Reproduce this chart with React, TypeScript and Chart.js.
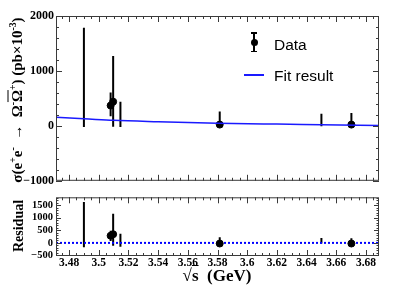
import React, { useEffect, useRef } from "react";
import { Chart, registerables } from "chart.js";

Chart.register(...registerables);

// ---- data ----
const energies = [3.49, 3.508, 3.5097, 3.5146, 3.5815, 3.65, 3.6702];
const measured = [false, true, true, false, true, false, true];
const xsec = [0, 370, 441, 0, 23, 0, 23];
const xsecLow = [-20, 173, -18, -20, 0, -5, 0];
const xsecHigh = [1786, 607, 1273, 441, 262, 220, 232];

const fitEnergies = [3.4712, 3.49, 3.51, 3.54, 3.58, 3.62, 3.65, 3.6888];
const fitXsec = [155, 130, 100, 75, 48, 32, 22, 8];

const residual = [-150, 285, 345, -100, -25, 0, -25];
const residualLow = [-175, 75, -110, -150, -25, -20, -25];
const residualHigh = [1620, 480, 1160, 360, 220, 195, 185];

const zeroLineEnergies = [3.4712, 3.6888];
const zeroLineValues = [0, 0];

// tick labels
const xTickValues = [3.48, 3.5, 3.52, 3.54, 3.56, 3.58, 3.6, 3.62, 3.64, 3.66, 3.68];
const topYTickValues = [-1000, 0, 1000, 2000];
const resYTickValues = [-500, 0, 500, 1000, 1500];

const X_MIN = 3.4712;
const X_MAX = 3.6888;
const TOP_Y_MIN = -1000;
const TOP_Y_MAX = 2000;
const RES_Y_MIN = -520;
const RES_Y_MAX = 1810;

const TICK_FONT = "'Liberation Serif', 'Times New Roman', serif";
const SANS = "'Liberation Sans', Arial, sans-serif";

const fmtNum = (v: number) => {
  const n = +Number(v).toFixed(3);
  return n < 0 ? "\u2212" + String(-n) : String(n);
};

const setTicks = (values: number[]) => (s: any) => {
  s.ticks = values.map((v) => ({ value: v }));
};

const errorBars = {
  id: "errorBars",
  beforeDatasetsDraw(chart: any) {
    const { ctx, chartArea } = chart;
    const xs = chart.scales.x;
    const ys = chart.scales.y;
    ctx.save();
    ctx.beginPath();
    ctx.rect(chartArea.left, chartArea.top, chartArea.right - chartArea.left, chartArea.bottom - chartArea.top);
    ctx.clip();
    chart.data.datasets.forEach((ds: any) => {
      if (!ds.errLow) return;
      ctx.strokeStyle = "#000";
      ctx.lineWidth = 2;
      ds.data.forEach((p: any, j: number) => {
        const x = xs.getPixelForValue(p.x);
        ctx.beginPath();
        ctx.moveTo(x, ys.getPixelForValue(ds.errLow[j]));
        ctx.lineTo(x, ys.getPixelForValue(ds.errHigh[j]));
        ctx.stroke();
      });
    });
    ctx.restore();
  },
};

const frame = {
  id: "frame",
  afterDraw(chart: any, _args: any, opts: any) {
    const { ctx, chartArea: a } = chart;
    const xs = chart.scales.x;
    const ys = chart.scales.y;
    ctx.save();
    ctx.strokeStyle = "#3a3a3a";
    ctx.lineWidth = 1;
    ctx.strokeRect(a.left + 0.5, a.top + 0.5, a.right - a.left - 1, a.bottom - a.top - 1);
    const xTicks = (step: number, len: number) => {
      for (let k = Math.ceil(xs.min / step - 1e-9); k * step <= xs.max + 1e-9; k++) {
        const px = Math.round(xs.getPixelForValue(k * step)) + 0.5;
        ctx.beginPath();
        ctx.moveTo(px, a.bottom);
        ctx.lineTo(px, a.bottom - len);
        ctx.moveTo(px, a.top);
        ctx.lineTo(px, a.top + len);
        ctx.stroke();
      }
    };
    const yTicks = (step: number, len: number) => {
      for (let k = Math.ceil(ys.min / step - 1e-9); k * step <= ys.max + 1e-9; k++) {
        const py = Math.round(ys.getPixelForValue(k * step)) + 0.5;
        ctx.beginPath();
        ctx.moveTo(a.left, py);
        ctx.lineTo(a.left + len, py);
        ctx.moveTo(a.right, py);
        ctx.lineTo(a.right - len, py);
        ctx.stroke();
      }
    };
    xTicks(opts.xMinor, opts.minLen);
    xTicks(opts.xMajor, opts.majLen);
    yTicks(opts.yMinor, opts.yMinLen);
    yTicks(opts.yMajor, opts.yMajLen);
    ctx.restore();
  },
};

function TopChart() {
  const ref = useRef<HTMLCanvasElement>(null);
  useEffect(() => {
    const chart = new Chart(ref.current!, {
      type: "scatter",
      data: {
        datasets: [
          {
            type: "line",
            label: "Fit result",
            data: fitEnergies.map((x, i) => ({ x, y: fitXsec[i] })),
            borderColor: "#1a1aff",
            borderWidth: 1.5,
            pointRadius: 0,
            cubicInterpolationMode: "monotone",
            fill: false,
          } as any,
          {
            label: "Data",
            data: energies.map((x, i) => ({ x, y: xsec[i] })),
            errLow: xsecLow,
            errHigh: xsecHigh,
            backgroundColor: "#000",
            borderColor: "#000",
            pointRadius: (c: any) => (measured[c.dataIndex] ? 3.5 : 0),
            pointHoverRadius: 0,
          } as any,
        ],
      },
      options: {
        animation: false,
        responsive: false,
        events: [],
        layout: { padding: { left: 0, right: 20, top: 16, bottom: 6 } },
        plugins: {
          legend: { display: false },
          tooltip: { enabled: false },
          frame: { xMajor: 0.02, xMinor: 0.005, majLen: 6, minLen: 3, yMajor: 1000, yMinor: 200, yMajLen: 6, yMinLen: 3 },
        } as any,
        scales: {
          x: { type: "linear", min: X_MIN, max: X_MAX, display: false },
          y: {
            type: "linear",
            min: TOP_Y_MIN,
            max: TOP_Y_MAX,
            afterFit: (s: any) => { s.width = 56; },
            afterBuildTicks: setTicks(topYTickValues),
            grid: { display: false, drawTicks: false },
            border: { display: false },
            ticks: {
              padding: 2,
              color: "#000",
              font: { family: TICK_FONT, size: 12, weight: "bold" },
              callback: (v: any) => fmtNum(v),
            },
          },
        },
      } as any,
      plugins: [errorBars, frame],
    });
    return () => chart.destroy();
  }, []);
  return <canvas ref={ref} width={399} height={190} style={{ position: "absolute", left: 0, top: 0, width: 399, height: 190 }} />;
}

function ResidualChart() {
  const ref = useRef<HTMLCanvasElement>(null);
  useEffect(() => {
    const chart = new Chart(ref.current!, {
      type: "scatter",
      data: {
        datasets: [
          {
            label: "Residual",
            data: energies.map((x, i) => ({ x, y: residual[i] })),
            errLow: residualLow,
            errHigh: residualHigh,
            backgroundColor: "#000",
            borderColor: "#000",
            pointRadius: (c: any) => (measured[c.dataIndex] ? 3.5 : 0),
            pointHoverRadius: 0,
          } as any,
          {
            type: "line",
            label: "zero",
            data: zeroLineEnergies.map((x, i) => ({ x, y: zeroLineValues[i] })),
            borderColor: "#0000ff",
            borderWidth: 2,
            borderDash: [2, 2],
            pointRadius: 0,
            fill: false,
          } as any,
        ],
      },
      options: {
        animation: false,
        responsive: false,
        events: [],
        layout: { padding: { left: 0, right: 20, top: 5, bottom: 0 } },
        plugins: {
          legend: { display: false },
          tooltip: { enabled: false },
          frame: { xMajor: 0.02, xMinor: 0.005, majLen: 6, minLen: 3, yMajor: 500, yMinor: 100, yMajLen: 5, yMinLen: 2.5 },
        } as any,
        scales: {
          x: {
            type: "linear",
            min: X_MIN,
            max: X_MAX,
            afterFit: (s: any) => { s.height = 32; },
            afterBuildTicks: setTicks(xTickValues),
            grid: { display: false, drawTicks: false },
            border: { display: false },
            ticks: {
              autoSkip: false,
              maxRotation: 0,
              padding: 0,
              color: "#000",
              font: { family: TICK_FONT, size: 11.5, weight: "bold" },
              callback: (v: any) => fmtNum(v),
            },
          },
          y: {
            type: "linear",
            min: RES_Y_MIN,
            max: RES_Y_MAX,
            afterFit: (s: any) => { s.width = 56; },
            afterBuildTicks: setTicks(resYTickValues),
            grid: { display: false, drawTicks: false },
            border: { display: false },
            ticks: {
              autoSkip: false,
              padding: 3,
              color: "#000",
              font: { family: TICK_FONT, size: 10.5, weight: "bold" },
              callback: (v: any) => fmtNum(v),
            },
          },
        },
      } as any,
      plugins: [errorBars, frame],
    });
    return () => chart.destroy();
  }, []);
  return <canvas ref={ref} width={399} height={100} style={{ position: "absolute", left: 0, top: 188, width: 399, height: 100 }} />;
}

const serifBold: React.CSSProperties = { fontFamily: TICK_FONT, fontWeight: "bold", color: "#000", whiteSpace: "nowrap", position: "absolute" };
const supStyle: React.CSSProperties = { fontSize: "0.65em", verticalAlign: "0.55em", lineHeight: 0 };

export default function App() {
  return (
    <div style={{ position: "fixed", left: 0, top: 0, width: 399, height: 288, background: "#fff", overflow: "hidden" }}>
      <TopChart />
      <ResidualChart />
      {/* y title, top panel */}
      <div style={{ ...serifBold, left: 17, top: 100, fontSize: 15, transform: "translate(-50%, -50%) rotate(-90deg)" }}>
        σ(e<span style={supStyle}>+</span>e<span style={supStyle}>-</span>&nbsp;&nbsp;→&nbsp;&nbsp;Ω<span style={supStyle}>-</span>
        <span style={{ textDecoration: "overline" }}>Ω</span><span style={supStyle}>+</span>) (pb×10<span style={supStyle}>-3</span>)
      </div>
      {/* y title, residual panel */}
      <div style={{ ...serifBold, left: 19, top: 226, fontSize: 14, transform: "translate(-50%, -50%) rotate(-90deg)" }}>Residual</div>
      {/* x title */}
      <div style={{ ...serifBold, left: 217, top: 276, fontSize: 17, transform: "translate(-50%, -50%)" }}>
        √<span style={{ textDecoration: "overline" }}>s</span>&nbsp;&nbsp;(GeV)
      </div>
      {/* legend */}
      <div style={{ position: "absolute", left: 253, top: 32, width: 2, height: 20, background: "#000" }} />
      <div style={{ position: "absolute", left: 251, top: 32, width: 6, height: 1.5, background: "#000" }} />
      <div style={{ position: "absolute", left: 251, top: 50.5, width: 6, height: 1.5, background: "#000" }} />
      <div style={{ position: "absolute", left: 250.5, top: 38.5, width: 7, height: 7, borderRadius: "50%", background: "#000" }} />
      <div style={{ position: "absolute", left: 274, top: 44.5, transform: "translateY(-50%)", fontFamily: SANS, fontSize: 15.5, color: "#000", whiteSpace: "nowrap" }}>Data</div>
      <div style={{ position: "absolute", left: 244, top: 74, width: 20, height: 1.5, background: "#1a1aff" }} />
      <div style={{ position: "absolute", left: 274, top: 76, transform: "translateY(-50%)", fontFamily: SANS, fontSize: 15.5, color: "#000", whiteSpace: "nowrap" }}>Fit result</div>
    </div>
  );
}
